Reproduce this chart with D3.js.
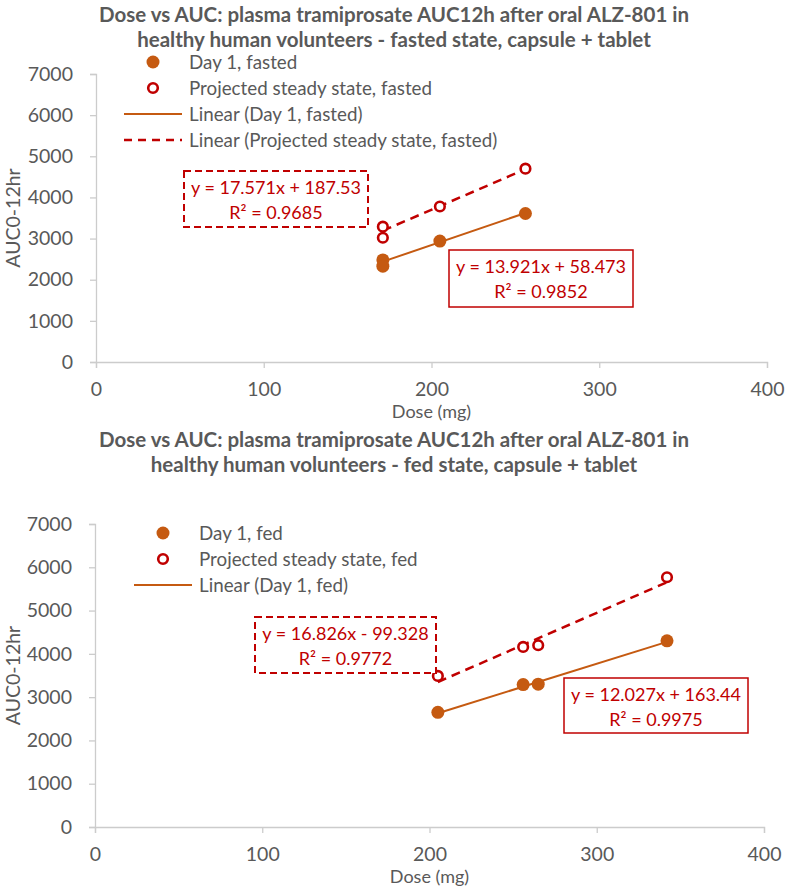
<!DOCTYPE html>
<html lang="en">
<head>
<meta charset="utf-8">
<script src="https://d3js.org/d3.v7.min.js"></script>
<style>
  body { margin: 0; background: #fff; }
  svg { display: block; font-family: Lato, "Open Sans", sans-serif; }
</style>
</head>
<body>
<script>

// ---- data ----
const xTicks = [0, 100, 200, 300, 400];
const yTicks = [0, 1000, 2000, 3000, 4000, 5000, 6000, 7000];

// fasted state
const fastedDose = [171, 171, 205, 256];
const fastedDay1 = [2480, 2330, 2940, 3610];
const fastedSteady = [3290, 3020, 3780, 4700];
const fastedFitDay1 = [13.921, 58.473, 0.9852];     // slope, intercept, R2
const fastedFitSteady = [17.571, 187.53, 0.9685];

// fed state
const fedDose = [205, 256, 265, 342];
const fedDay1 = [2650, 3290, 3300, 4300];
const fedSteady = [3490, 4160, 4200, 5770];
const fedFitDay1 = [12.027, 163.44, 0.9975];
const fedFitSteady = [16.826, -99.328, 0.9772];

const orange = '#c55a11',
      red = '#c00000',
      grey = '#595959',
      axisGrey = '#cccccc';

const width = 786, height = 887;

const svg = d3.select('body').append('svg')
  .attr('width', width)
  .attr('height', height);

function eqText(fit) {
  var sign = fit[1] < 0 ? ' - ' : ' + ';
  return 'y = ' + fit[0].toFixed(3) + 'x' + sign + Math.abs(fit[1]);
}

function drawChart(c) {
  var g = svg.append('g');

  var x = d3.scaleLinear().domain([0, 400]).range([c.x0, c.x1]);
  var y = d3.scaleLinear().domain([0, 7000]).range([c.y0, c.y1]);

  // title
  g.selectAll('.title')
    .data(c.title)
    .enter().append('text')
    .attr('x', 394)
    .attr('y', (d, i) => c.titleY + i * 25)
    .attr('text-anchor', 'middle')
    .attr('font-size', 20.5)
    .attr('font-weight', 'bold')
    .attr('fill', grey)
    .text(d => d);

  // axes
  var yAxis = g.append('g')
    .attr('transform', 'translate(' + c.x0 + ',0)')
    .call(d3.axisLeft(y).tickValues(yTicks).tickSize(6).tickPadding(17).tickFormat(d3.format('d')));
  var xAxis = g.append('g')
    .attr('transform', 'translate(0,' + c.y0 + ')')
    .call(d3.axisBottom(x).tickValues(xTicks).tickSize(6).tickPadding(14).tickFormat(d3.format('d')));
  [xAxis, yAxis].forEach(function(a) {
    a.select('.domain').attr('stroke', axisGrey).attr('stroke-width', 1.3);
    a.selectAll('.tick line').attr('stroke', axisGrey).attr('stroke-width', 1.3);
    a.selectAll('.tick text').attr('fill', grey).attr('font-size', 19.5).attr('font-family', 'Lato, sans-serif');
  });

  g.append('text')
    .attr('transform', 'translate(' + 20 + ',' + (c.y0 + c.y1) / 2 + ') rotate(-90)')
    .attr('text-anchor', 'middle')
    .attr('font-size', 19.5)
    .attr('fill', grey)
    .text('AUC0-12hr');

  g.append('text')
    .attr('x', (x(0) + x(400)) / 2)
    .attr('y', c.y0 + 56)
    .attr('text-anchor', 'middle')
    .attr('font-size', 18)
    .attr('fill', grey)
    .text('Dose (mg)');

  // trend lines
  var xs = d3.extent(c.dose);
  var line = d3.line().x(d => x(d[0])).y(d => y(d[1]));
  g.append('path')
    .datum(xs.map(v => [v, c.fitSteady[0] * v + c.fitSteady[1]]))
    .attr('d', line)
    .attr('fill', 'none')
    .attr('stroke', red)
    .attr('stroke-width', 2.5)
    .attr('stroke-dasharray', '9,6');
  g.append('path')
    .datum(xs.map(v => [v, c.fitDay1[0] * v + c.fitDay1[1]]))
    .attr('d', line)
    .attr('fill', 'none')
    .attr('stroke', orange)
    .attr('stroke-width', 2);

  // points
  g.selectAll('.ss')
    .data(c.steady)
    .enter().append('circle')
    .attr('cx', (d, i) => x(c.dose[i]))
    .attr('cy', d => y(d))
    .attr('r', 4.8)
    .attr('fill', '#fff')
    .attr('stroke', red)
    .attr('stroke-width', 2.6);
  g.selectAll('.d1')
    .data(c.day1)
    .enter().append('circle')
    .attr('cx', (d, i) => x(c.dose[i]))
    .attr('cy', d => y(d))
    .attr('r', 6.5)
    .attr('fill', orange);

  // equation boxes
  c.boxes.forEach(function(b) {
    g.append('rect')
      .attr('x', b.x).attr('y', b.y)
      .attr('width', b.w).attr('height', b.h)
      .attr('fill', '#fff')
      .attr('stroke', red)
      .attr('stroke-width', b.dashed ? 2 : 1.5)
      .attr('stroke-dasharray', b.dashed ? '7,4' : null);
    g.append('text')
      .attr('x', b.x + b.w / 2).attr('y', b.y + 23)
      .attr('text-anchor', 'middle')
      .attr('font-size', 18)
      .attr('fill', red)
      .text(eqText(b.fit));
    g.append('text')
      .attr('x', b.x + b.w / 2).attr('y', b.y + 48)
      .attr('text-anchor', 'middle')
      .attr('font-size', 18)
      .attr('fill', red)
      .text('R\u00b2 = ' + b.fit[2]);
  });

  // legend
  var leg = g.selectAll('.leg')
    .data(c.legend)
    .enter().append('g')
    .attr('transform', (d, i) => 'translate(0,' + (c.legY + i * 26) + ')');
  leg.append('text')
    .attr('x', c.legTextX)
    .attr('y', 6.5)
    .attr('font-size', 18.8)
    .attr('fill', grey)
    .text(d => d.label);
  leg.each(function(d) {
    var s = d3.select(this);
    if (d.kind === 'dot') {
      s.append('circle').attr('cx', c.legMarkX).attr('cy', 0).attr('r', 6.5).attr('fill', orange);
    } else if (d.kind === 'ring') {
      s.append('circle').attr('cx', c.legMarkX).attr('cy', 0).attr('r', 4.8)
        .attr('fill', '#fff').attr('stroke', red).attr('stroke-width', 2.6);
    } else {
      s.append('line')
        .attr('x1', c.legTextX - 65).attr('x2', c.legTextX - 7)
        .attr('y1', 0).attr('y2', 0)
        .attr('stroke', d.kind === 'dash' ? red : orange)
        .attr('stroke-width', d.kind === 'dash' ? 2.5 : 2)
        .attr('stroke-dasharray', d.kind === 'dash' ? '8,6' : null);
    }
  });
}

drawChart({
  title: ['Dose vs AUC: plasma tramiprosate AUC12h after oral ALZ-801 in',
          'healthy human volunteers - fasted state, capsule + tablet'],
  titleY: 22,
  x0: 96, x1: 767, y0: 362, y1: 74,
  dose: fastedDose, day1: fastedDay1, steady: fastedSteady,
  fitDay1: fastedFitDay1, fitSteady: fastedFitSteady,
  legY: 62, legMarkX: 153, legTextX: 189,
  legend: [
    {label: 'Day 1, fasted', kind: 'dot'},
    {label: 'Projected steady state, fasted', kind: 'ring'},
    {label: 'Linear (Day 1, fasted)', kind: 'line'},
    {label: 'Linear (Projected steady state, fasted)', kind: 'dash'}
  ],
  boxes: [
    {x: 184, y: 171, w: 184, h: 56, dashed: true, fit: fastedFitSteady},
    {x: 449, y: 250, w: 184, h: 57, dashed: false, fit: fastedFitDay1}
  ]
});

drawChart({
  title: ['Dose vs AUC: plasma tramiprosate AUC12h after oral ALZ-801 in',
          'healthy human volunteers - fed state, capsule + tablet'],
  titleY: 447,
  x0: 95, x1: 764, y0: 827, y1: 524,
  dose: fedDose, day1: fedDay1, steady: fedSteady,
  fitDay1: fedFitDay1, fitSteady: fedFitSteady,
  legY: 533, legMarkX: 163, legTextX: 199,
  legend: [
    {label: 'Day 1, fed', kind: 'dot'},
    {label: 'Projected steady state, fed', kind: 'ring'},
    {label: 'Linear (Day 1, fed)', kind: 'line'}
  ],
  boxes: [
    {x: 255, y: 617, w: 181, h: 56, dashed: true, fit: fedFitSteady},
    {x: 564, y: 678, w: 184, h: 55, dashed: false, fit: fedFitDay1}
  ]
});

</script>
</body>
</html>
